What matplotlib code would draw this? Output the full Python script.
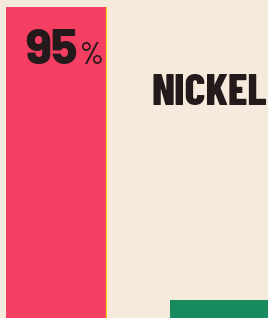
import matplotlib
matplotlib.use("Agg")
import matplotlib.pyplot as plt

# chart data
categories = ["Nickel", "Other"]
values = [95, 5.5]
bar_colors = ["#F53F62", "#178A5E"]
label = "NICKEL"

BG = "#F6EADC"
INK = "#241A1C"
FONT = ["Barlow Condensed", "Fira Sans Condensed", "DejaVu Sans"]
FONT_NUM = ["Barlow", "Fira Sans", "DejaVu Sans"]

fig = plt.figure(figsize=(2.68, 3.18), dpi=100)
fig.patch.set_facecolor(BG)
ax = fig.add_axes([0, 0, 1, 1])
ax.set_facecolor(BG)

x = list(range(len(categories)))
width = 100 / 164
ax.bar(x, values, width=width, color=bar_colors, linewidth=0, zorder=2)
# thin yellow misregistration edge along the red bar
ax.plot([x[0] + width / 2] * 2, [0, values[0]], color="#F7D21E", lw=0.9, zorder=3)

ax.set_xlim(-56 / 164, (268 - 56) / 164)
ax.set_ylim(0, values[0] * 318 / 311)
ax.axis("off")

ax.text(25 / 268, 1 - 64 / 318, f"{values[0]:.0f}", transform=ax.transAxes,
        fontsize=35, fontweight=800, family=FONT_NUM,
        color=INK, ha="left", va="baseline", zorder=4)
ax.text(79 / 268, 1 - 64 / 318, "%", transform=ax.transAxes,
        fontsize=22, fontweight=500, family=FONT,
        color=INK, ha="left", va="baseline", zorder=4)
ax.text(267 / 268, 1 - 105 / 318, label, transform=ax.transAxes,
        fontsize=32, fontweight=800, family=FONT,
        color=INK, ha="right", va="baseline", zorder=4)

fig.savefig("out.png", dpi=100, facecolor=BG)
